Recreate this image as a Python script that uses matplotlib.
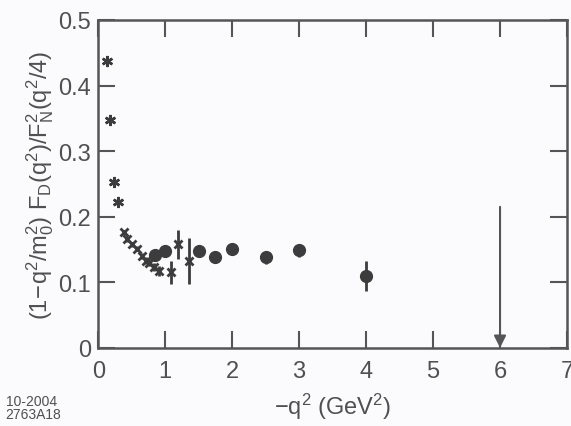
import numpy as np
import matplotlib.pyplot as plt

plt.rcParams['font.family'] = ['Liberation Sans', 'DejaVu Sans']
plt.rcParams['mathtext.fontset'] = 'custom'
plt.rcParams['mathtext.rm'] = 'Liberation Sans'
plt.rcParams['mathtext.it'] = 'Liberation Sans'
plt.rcParams['mathtext.default'] = 'regular'

# low q^2 data (stars)
star_x = [0.13, 0.17, 0.23, 0.29]
star_y = [0.438, 0.348, 0.253, 0.222]
star_err = [0.006, 0.006, 0.005, 0.005]

# crosses
cross_x = [0.38, 0.43, 0.51, 0.58, 0.66, 0.71, 0.76, 0.83, 0.91, 1.08, 1.19, 1.35]
cross_y = [0.176, 0.166, 0.158, 0.151, 0.140, 0.133, 0.130, 0.123, 0.117, 0.115, 0.158, 0.133]
cross_err = [0.004, 0.004, 0.004, 0.004, 0.004, 0.005, 0.005, 0.006, 0.008, 0.018, 0.022, 0.035]

# circles
circ_x = [0.85, 1.0, 1.5, 1.75, 2.0, 2.5, 3.0, 4.0]
circ_y = [0.142, 0.148, 0.148, 0.138, 0.150, 0.138, 0.149, 0.110]
circ_err = [0.008, 0.008, 0.009, 0.009, 0.009, 0.010, 0.010, 0.023]

arrow_x = 6.0
arrow_top = 0.215

ink = '#3c3c3c'
frame = '#555555'
txt = '#505050'

fig = plt.figure(figsize=(5.71, 4.27), dpi=100)
fig.patch.set_facecolor('#fbfafc')
ax = fig.add_axes([0.172, 0.183, 0.821, 0.768])
ax.set_facecolor('#fbfafc')

ax.errorbar(star_x, star_y, yerr=star_err, fmt='none', color=ink,
            ecolor=ink, elinewidth=1.5, capsize=0)
ax.plot(star_x, star_y, linestyle='none', marker=(6, 2, 0), ms=8, mew=1.8,
        color=ink)
ax.errorbar(cross_x, cross_y, yerr=cross_err, fmt='x', ms=6, mew=2, color=ink,
            ecolor=ink, elinewidth=2, capsize=0)
ax.errorbar(circ_x, circ_y, yerr=circ_err, fmt='o', ms=8.5, color=ink,
            ecolor=ink, elinewidth=2, capsize=0)

ax.annotate('', xy=(arrow_x, 0.0), xytext=(arrow_x, arrow_top),
            arrowprops=dict(arrowstyle='-|>', color=frame, lw=1.5,
                            mutation_scale=18, shrinkA=0, shrinkB=0))

ax.set_xlim(0, 7)
ax.set_ylim(0, 0.5)
ax.set_xticks(range(8))
ax.set_yticks([0, 0.1, 0.2, 0.3, 0.4, 0.5])
ax.set_yticklabels(['0', '0.1', '0.2', '0.3', '0.4', '0.5'])
ax.tick_params(direction='in', length=12, width=1.5, color=frame,
               labelcolor=txt, labelsize=17, top=True, right=True)
ax.tick_params(axis='x', pad=9)
ax.tick_params(axis='y', pad=5)
for s in ax.spines.values():
    s.set_color(frame)
    s.set_linewidth(1.8)

ax.set_xlabel(r'$-q^2$ (GeV$^2$)', fontsize=17, color=txt, labelpad=6)
ax.set_ylabel(r'$(1\!-\!q^2/m_0^2)\ F_D(q^2)/F_N^2(q^2/4)$', fontsize=17,
              color=txt, labelpad=2)

fig.text(0.01, 0.018, '10-2004\n2763A18', fontsize=10, color=txt,
         linespacing=0.9)

fig.savefig('out.png', dpi=100, facecolor=fig.get_facecolor())
